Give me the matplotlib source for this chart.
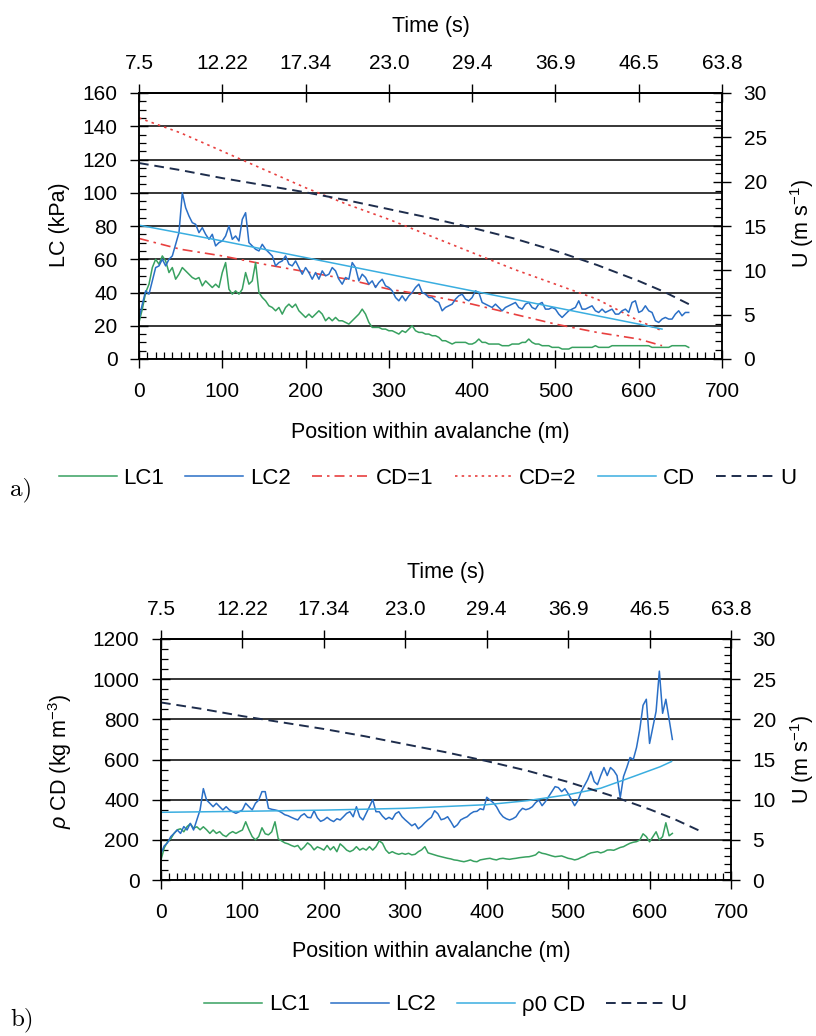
import numpy as np
import matplotlib
matplotlib.use("Agg")
import matplotlib.pyplot as plt
from matplotlib.ticker import MultipleLocator, FixedLocator, NullLocator

plt.rcParams["font.family"] = ["Liberation Sans", "DejaVu Sans"]
plt.rcParams["mathtext.fontset"] = "custom"
plt.rcParams["mathtext.rm"] = "Liberation Sans"
plt.rcParams["mathtext.it"] = "Liberation Sans:italic"
plt.rcParams["mathtext.default"] = "regular"

# ---------------------------------------------------------------- data
STEP = 4  # sampling interval of the load-cell records (m)

time_ticks = [0, 100, 200, 300, 400, 500, 600, 700]
time_labels = ["7.5", "12.22", "17.34", "23.0", "29.4", "36.9", "46.5", "63.8"]

# front speed U (m/s) along the avalanche
u_pos = [0, 50, 100, 150, 200, 250, 300, 350, 400, 450, 500, 550, 600, 630, 662]
u_val = [22.1, 21.3, 20.4, 19.6, 18.8, 17.9, 16.9, 15.9, 14.8, 13.6, 12.2,
         10.6, 8.8, 7.6, 6.1]

# model pressures (kPa)
cd_pos = [0, 50, 100, 150, 200, 250, 300, 350, 400, 450, 500, 550, 600, 628]
cd1_val = [72.5, 66, 62, 57, 52.5, 48, 42, 38, 33, 27, 21, 16, 12, 8]
cd2_val = [145, 136, 125, 114, 103, 93, 84, 74, 64, 54, 45, 36, 23, 17]
cdfit_pos = [0, 100, 200, 300, 400, 500, 600, 628]
cdfit_val = [80.5, 71, 61, 51, 41, 31, 21, 18]

# load cell 1 and 2 pressures (kPa)
lc1_a = [22, 30, 40, 45, 55, 60, 57, 62, 59, 52, 55, 48, 51, 55, 53, 51, 49, 48,
         49, 44, 47, 45, 43, 45, 43, 52, 58, 42, 39, 41, 39, 42, 52, 45, 47, 58,
         40, 37, 35, 32, 31, 29, 31, 27, 31, 33, 31, 33, 29, 27, 25, 27, 25, 27,
         29, 27, 23, 25, 23, 25, 23, 23, 22, 21, 23, 25, 27, 30, 27, 22, 19, 19,
         19, 18, 18, 17, 17, 16, 15, 17, 16, 18, 20, 17, 16, 16, 15, 15, 14, 14,
         13, 11, 11, 10, 9, 10, 10, 10, 10, 9, 9, 10, 12, 10, 10, 9, 9, 9, 9, 8,
         8, 8, 9, 9, 9, 10, 10, 12, 10, 9, 9, 8, 8, 8, 7, 7, 7, 6, 6, 6, 7, 7, 7,
         7, 7, 7, 7, 8, 7, 7, 7, 7, 8, 8, 8, 8, 8, 8, 8, 8, 8, 8, 8, 8, 7, 7, 7,
         7, 7, 7, 8, 8, 8, 8, 8, 7]
lc2_a = [24, 33, 41, 39, 47, 55, 56, 60, 56, 60, 62, 69, 76, 100, 91, 86, 82, 81,
         76, 79, 75, 72, 75, 68, 70, 71, 74, 80, 72, 74, 71, 84, 88, 70, 68, 66,
         65, 69, 66, 64, 62, 56, 58, 59, 62, 57, 56, 59, 55, 51, 55, 52, 48, 52,
         48, 53, 50, 51, 55, 53, 48, 45, 49, 48, 58, 55, 47, 51, 49, 45, 47, 43,
         46, 48, 44, 43, 41, 37, 35, 38, 35, 38, 40, 43, 45, 40, 39, 37, 37, 35,
         34, 29, 31, 32, 33, 36, 38, 39, 36, 35, 37, 41, 40, 34, 33, 32, 31, 33,
         31, 29, 31, 32, 33, 34, 31, 30, 33, 34, 31, 30, 33, 34, 30, 30, 31, 30,
         27, 25, 27, 29, 30, 31, 35, 30, 30, 31, 32, 29, 28, 30, 28, 29, 30, 27,
         27, 29, 30, 28, 34, 35, 28, 29, 32, 29, 28, 23, 22, 24, 25, 24, 24, 27,
         29, 26, 28, 28]

# density-scaled drag rho0*CD (kg/m3)
rcd_pos = [0, 100, 200, 300, 400, 450, 500, 540, 580, 613, 627]
rcd_val = [337, 342, 348, 357, 375, 395, 425, 457, 515, 564, 590]

lc1_b = [100, 160, 190, 205, 232, 250, 255, 240, 266, 280, 258, 265, 250, 265,
         250, 232, 249, 232, 241, 224, 216, 232, 241, 232, 241, 249, 290, 250,
         216, 200, 216, 260, 230, 225, 240, 290, 205, 195, 185, 180, 172, 166,
         172, 150, 165, 185, 172, 150, 165, 158, 149, 172, 150, 166, 141, 180,
         166, 149, 141, 149, 166, 149, 158, 149, 166, 149, 166, 195, 183, 150,
         133, 141, 133, 128, 133, 128, 133, 125, 128, 141, 150, 166, 135, 130,
         125, 120, 116, 112, 108, 105, 100, 98, 94, 91, 95, 100, 93, 91, 100,
         103, 106, 108, 103, 100, 106, 108, 105, 103, 106, 108, 111, 113, 115,
         116, 120, 125, 140, 133, 130, 125, 120, 116, 118, 120, 114, 108, 105,
         100, 104, 112, 118, 128, 135, 138, 141, 135, 140, 149, 150, 148, 155,
         162, 166, 175, 183, 188, 191, 199, 230, 216, 190, 215, 240, 200, 216,
         285, 220, 232]
lc2_b = [133, 170, 185, 216, 232, 249, 232, 266, 249, 282, 249, 299, 349, 455,
         398, 382, 365, 382, 365, 349, 365, 349, 340, 332, 340, 349, 382, 365,
         349, 382, 398, 440, 440, 357, 352, 349, 345, 336, 325, 320, 312, 305,
         299, 320, 330, 312, 310, 345, 310, 292, 299, 312, 299, 291, 305, 299,
         315, 332, 340, 315, 365, 315, 299, 332, 365, 400, 340, 340, 318, 302,
         312, 302, 330, 340, 315, 299, 285, 270, 280, 255, 268, 285, 300, 312,
         345, 330, 300, 305, 315, 290, 262, 275, 299, 308, 315, 330, 340, 342,
         355, 350, 412, 398, 385, 365, 335, 315, 305, 299, 305, 315, 340, 357,
         350, 355, 365, 385, 398, 370, 390, 415, 440, 465, 460, 440, 455, 430,
         400, 370, 395, 440, 470, 500, 540, 490, 475, 520, 560, 520, 560, 545,
         520, 410, 515, 560, 610, 600, 660, 750, 870, 900, 680, 760, 840, 1040,
         830, 900, 800, 700]

# ---------------------------------------------------------------- styles
C_LC1 = "#38a160"
C_LC2 = "#2a6fc6"
C_RED = "#e8403f"
C_CD = "#3aaee0"
C_U = "#1e2d4c"
U_DASH = (0, (5, 3))

TICK_FS = 15
LABEL_FS = 15.5
LEG_FS = 16

fig = plt.figure(figsize=(8.16, 10.36), dpi=100)


def dress(ax, axr, ymax, ymajor, yminor):
    ax.set_xlim(0, 700)
    ax.set_ylim(0, ymax)
    axr.set_ylim(0, 30)
    ax.xaxis.set_major_locator(MultipleLocator(100))
    ax.xaxis.set_minor_locator(MultipleLocator(10))
    ax.yaxis.set_major_locator(MultipleLocator(ymajor))
    ax.yaxis.set_minor_locator(MultipleLocator(yminor))
    axr.yaxis.set_major_locator(MultipleLocator(5))
    axr.yaxis.set_minor_locator(MultipleLocator(1))
    ax.grid(axis="y", which="major", color="black", lw=1.1)
    ax.set_axisbelow(True)
    ax.tick_params(axis="both", which="major", direction="inout", length=13,
                   width=1, labelsize=TICK_FS, colors="black")
    ax.tick_params(axis="x", which="major", pad=10)
    ax.tick_params(axis="y", which="major", pad=9)
    ax.tick_params(which="minor", direction="in", length=5, width=0.9)
    axr.tick_params(axis="y", which="major", direction="inout", length=13,
                    width=1, labelsize=TICK_FS, pad=9)
    axr.tick_params(axis="y", which="minor", direction="in", length=5, width=0.9)
    for a in (ax, axr):
        for s in a.spines.values():
            s.set_linewidth(1.1)
    sec = ax.secondary_xaxis("top")
    sec.xaxis.set_major_locator(FixedLocator(time_ticks))
    sec.xaxis.set_minor_locator(NullLocator())
    sec.set_xticklabels(time_labels)
    sec.tick_params(direction="inout", length=13, width=1, labelsize=TICK_FS, pad=8)
    sec.spines["top"].set_linewidth(1.1)
    return sec


# ---------------------------------------------------------------- panel a
ax1 = fig.add_axes([139 / 816, 1 - 359 / 1036, 583 / 816, 266 / 1036])
ax1r = ax1.twinx()
sec1 = dress(ax1, ax1r, 160, 20, 5)

x_a = np.arange(len(lc1_a)) * STEP
h_u, = ax1r.plot(u_pos, u_val, color=C_U, lw=1.4, ls=U_DASH, label="U")
h_cd2, = ax1.plot(cd_pos, cd2_val, color=C_RED, lw=1.2, ls=(0, (1.5, 2.5)), label="CD=2")
h_cd1, = ax1.plot(cd_pos, cd1_val, color=C_RED, lw=1.2, ls=(0, (6, 3, 1.5, 3)), label="CD=1")
h_lc1, = ax1.plot(x_a, lc1_a, color=C_LC1, lw=1.1, label="LC1")
h_lc2, = ax1.plot(x_a, lc2_a, color=C_LC2, lw=1.1, label="LC2")
h_cd, = ax1.plot(cdfit_pos, cdfit_val, color=C_CD, lw=1.1, label="CD")

ax1.set_xlabel("Position within avalanche (m)", fontsize=LABEL_FS)
ax1.xaxis.set_label_coords(0.50, -0.235)
ax1.set_ylabel("LC (kPa)", fontsize=LABEL_FS)
ax1.yaxis.set_label_coords(-0.118, 0.504)
ax1r.set_ylabel(r"U (m s$^{-1}$)", fontsize=LABEL_FS)
ax1r.yaxis.set_label_coords(1.113, 0.511)
sec1.set_xlabel("Time (s)", fontsize=LABEL_FS, labelpad=16)

fig.legend(handles=[h_lc1, h_lc2, h_cd1, h_cd2, h_cd, h_u],
           labels=["LC1", "LC2", "CD=1", "CD=2", "CD", "U"],
           loc="center", bbox_to_anchor=(0.524, 1 - 478 / 1036), ncol=6,
           frameon=False, fontsize=LEG_FS, handlelength=2.6, handletextpad=0.3,
           columnspacing=0.95)
fig.text(10 / 816, 1 - 490 / 1036, "a)", family="cmr10", fontsize=18,
         va="center", ha="left")

# ---------------------------------------------------------------- panel b
ax2 = fig.add_axes([161 / 816, 1 - 880 / 1036, 570 / 816, 241 / 1036])
ax2r = ax2.twinx()
sec2 = dress(ax2, ax2r, 1200, 200, 50)

x_b = np.arange(len(lc1_b)) * STEP
hb_u, = ax2r.plot(u_pos, u_val, color=C_U, lw=1.4, ls=U_DASH, label="U")
hb_lc1, = ax2.plot(x_b, lc1_b, color=C_LC1, lw=1.1, label="LC1")
hb_lc2, = ax2.plot(x_b, lc2_b, color=C_LC2, lw=1.1, label="LC2")
hb_rcd, = ax2.plot(rcd_pos, rcd_val, color=C_CD, lw=1.1, label="ρ0 CD")

ax2.set_xlabel("Position within avalanche (m)", fontsize=LABEL_FS)
ax2.xaxis.set_label_coords(0.475, -0.255)
ax2.set_ylabel(r"$\it{\rho}$ CD (kg m$^{-3}$)", fontsize=LABEL_FS)
ax2.yaxis.set_label_coords(-0.153, 0.494)
ax2r.set_ylabel(r"U (m s$^{-1}$)", fontsize=LABEL_FS)
ax2r.yaxis.set_label_coords(1.100, 0.502)
sec2.set_xlabel("Time (s)", fontsize=LABEL_FS, labelpad=16)

fig.legend(handles=[hb_lc1, hb_lc2, hb_rcd, hb_u],
           labels=["LC1", "LC2", "ρ0 CD", "U"],
           loc="center", bbox_to_anchor=(0.546, 1 - 1005 / 1036), ncol=4,
           frameon=False, fontsize=LEG_FS, handlelength=2.6, handletextpad=0.3,
           columnspacing=0.95)
fig.text(10 / 816, 1 - 1020 / 1036, "b)", family="cmr10", fontsize=18,
         va="center", ha="left")

fig.savefig("out.png", dpi=100, facecolor="white")
